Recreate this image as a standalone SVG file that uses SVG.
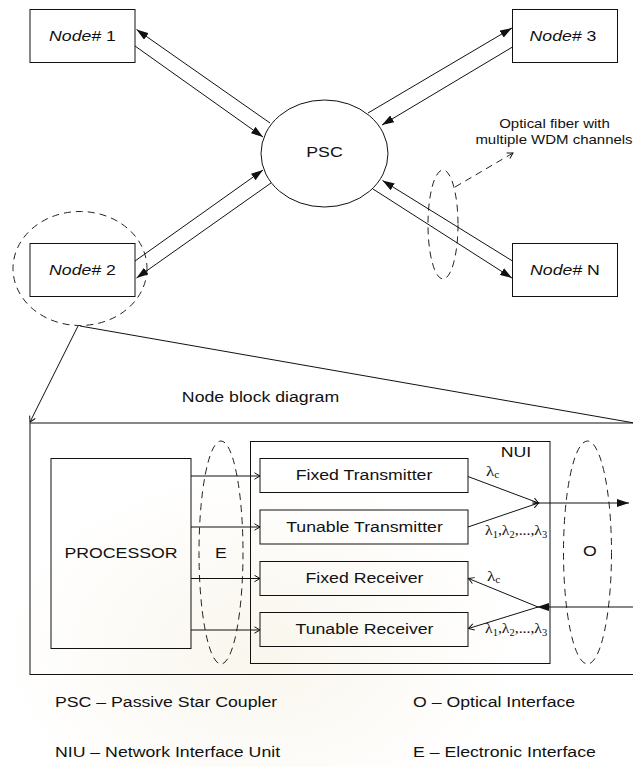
<svg xmlns="http://www.w3.org/2000/svg" width="633" height="767" viewBox="0 0 633 767">
  <defs>
    <style>
      .ln { fill: none; stroke: #111; stroke-width: 1; }
      .dash { fill: none; stroke: #222; stroke-width: 1; stroke-dasharray: 7 5; }
      .box { fill: #fff; stroke: #111; stroke-width: 1; }
      .ibox { fill: none; stroke: #111; stroke-width: 1; }
      .t { font-family: "Liberation Sans", Arial, sans-serif; font-size: 15px; fill: #111; }
      .ts { font-family: "Liberation Sans", Arial, sans-serif; font-size: 12.7px; fill: #111; }
      .lam { font-family: "Liberation Serif", "Times New Roman", serif; font-size: 15px; fill: #111; }
      .sub { font-size: 10px; }
      .it { font-style: italic; }
    </style>
    <marker id="fill" markerUnits="userSpaceOnUse" markerWidth="12" markerHeight="8" refX="12" refY="4" orient="auto">
      <path d="M0,0 L12,4 L0,8 z" fill="#111"/>
    </marker>
    <marker id="open" markerUnits="userSpaceOnUse" markerWidth="8" markerHeight="8" refX="6.5" refY="4" orient="auto">
      <path d="M1,0.8 L6.5,4 L1,7.2" fill="none" stroke="#111" stroke-width="1"/>
    </marker>
    <radialGradient id="wm" cx="0.5" cy="0.5" r="0.5">
      <stop offset="0" stop-color="#efe5cc" stop-opacity="0.35"/>
      <stop offset="1" stop-color="#efe5cc" stop-opacity="0"/>
    </radialGradient>
  </defs>

  <rect width="633" height="767" fill="#fff"/>
  <!-- faint background seal -->
  <ellipse cx="260" cy="650" rx="260" ry="180" fill="url(#wm)"/>

  <!-- star network -->
  <g id="psc">
    <ellipse cx="324.5" cy="153.5" rx="63.5" ry="53.5" class="box"/>
    <text class="t" text-anchor="middle" transform="translate(324.5,157) scale(1.18,1)">PSC</text>
  </g>
  <g id="node1">
    <rect x="30" y="9.5" width="105" height="53" class="box"/>
    <text class="t" text-anchor="middle" transform="translate(82.5,41) scale(1.18,1)"><tspan class="it">Node#</tspan> 1</text>
  </g>
  <g id="node3">
    <rect x="512.5" y="9.5" width="105" height="53" class="box"/>
    <text class="t" text-anchor="middle" transform="translate(563,41) scale(1.18,1)"><tspan class="it">Node#</tspan> 3</text>
  </g>
  <g id="node2">
    <rect x="30" y="243.5" width="105" height="53" class="box"/>
    <text class="t" text-anchor="middle" transform="translate(82.5,274.5) scale(1.18,1)"><tspan class="it">Node#</tspan> 2</text>
  </g>
  <g id="nodeN">
    <rect x="512.5" y="243.5" width="105" height="53" class="box"/>
    <text class="t" text-anchor="middle" transform="translate(565,274.5) scale(1.18,1)"><tspan class="it">Node#</tspan> N</text>
  </g>

  <g id="fiber-note">
    <ellipse cx="443" cy="224.5" rx="15" ry="54.5" class="dash"/>
    <text class="ts" text-anchor="middle" transform="translate(554.5,128) scale(1.18,1)">Optical fiber with</text>
    <text class="ts" text-anchor="middle" transform="translate(554,144) scale(1.18,1)">multiple WDM channels</text>
  </g>

  <g id="connectors">
    <!-- node 1 -->
    <line x1="270" y1="123" x2="136.5" y2="29.5" class="ln" marker-end="url(#fill)"/>
    <line x1="135" y1="46" x2="263" y2="137" class="ln" marker-end="url(#fill)"/>
    <!-- node 2 -->
    <line x1="135" y1="261" x2="263" y2="170" class="ln" marker-end="url(#fill)"/>
    <line x1="271" y1="183" x2="136.5" y2="278" class="ln" marker-end="url(#fill)"/>
    <!-- node 3 -->
    <line x1="368" y1="113" x2="512" y2="28" class="ln" marker-end="url(#fill)"/>
    <line x1="512.5" y1="47" x2="382" y2="125" class="ln" marker-end="url(#fill)"/>
    <!-- node N -->
    <line x1="512.5" y1="261" x2="382.5" y2="180.5" class="ln" marker-end="url(#fill)"/>
    <line x1="373" y1="189" x2="512" y2="278" class="ln" marker-end="url(#fill)"/>
    <!-- annotation pointer -->
    <line x1="455" y1="187" x2="513" y2="153" class="dash" stroke-dasharray="6 4" marker-end="url(#open)"/>
    <!-- zoom-out lines to the node block -->
    <line x1="78" y1="326" x2="30" y2="422" class="ln" marker-end="url(#open)"/>
    <line x1="80" y1="326" x2="640" y2="424" class="ln"/>
  </g>

  <g id="zoom">
    <ellipse cx="80" cy="268.5" rx="67" ry="57" class="dash" stroke-dasharray="8 5"/>
  </g>

  <!-- node block diagram -->
  <text class="t" text-anchor="middle" transform="translate(260.5,402) scale(1.18,1)">Node block diagram</text>

  <g id="block">
    <rect x="30" y="423" width="640" height="251.5" class="ibox"/>
  </g>

  <g id="processor">
    <rect x="51" y="458.5" width="140" height="190" class="ibox"/>
    <text class="t" text-anchor="middle" transform="translate(121,558) scale(1.18,1)">PROCESSOR</text>
  </g>

  <g id="e-interface">
    <ellipse cx="221" cy="552.5" rx="22" ry="111.5" class="dash"/>
    <text class="t" text-anchor="middle" transform="translate(221,558) scale(1.18,1)">E</text>
  </g>

  <g id="nui">
    <rect x="250.5" y="441.5" width="299.5" height="222" class="ibox"/>
    <text class="t" text-anchor="middle" transform="translate(516,457) scale(1.18,1)">NUI</text>
  </g>

  <g id="fixed-tx">
    <rect x="260" y="458.5" width="208" height="34" class="ibox"/>
    <text class="t" text-anchor="middle" transform="translate(364,480) scale(1.18,1)">Fixed Transmitter</text>
  </g>
  <g id="tunable-tx">
    <rect x="260" y="510" width="208" height="34" class="ibox"/>
    <text class="t" text-anchor="middle" transform="translate(364.5,531.5) scale(1.18,1)">Tunable Transmitter</text>
  </g>
  <g id="fixed-rx">
    <rect x="260" y="561.5" width="208" height="34" class="ibox"/>
    <text class="t" text-anchor="middle" transform="translate(364.5,583) scale(1.18,1)">Fixed Receiver</text>
  </g>
  <g id="tunable-rx">
    <rect x="260" y="612.5" width="208" height="34" class="ibox"/>
    <text class="t" text-anchor="middle" transform="translate(364.5,634) scale(1.18,1)">Tunable Receiver</text>
  </g>

  <g id="o-interface">
    <ellipse cx="587.5" cy="552.5" rx="24" ry="111.5" class="dash"/>
    <text class="t" text-anchor="middle" transform="translate(590,556) scale(1.18,1)">O</text>
  </g>

  <g id="block-connectors">
    <line x1="191" y1="476" x2="260" y2="476" class="ln" marker-end="url(#open)"/>
    <line x1="191" y1="527" x2="260" y2="527" class="ln" marker-end="url(#open)"/>
    <line x1="191" y1="578.5" x2="260" y2="578.5" class="ln" marker-end="url(#open)"/>
    <line x1="191" y1="630" x2="260" y2="630" class="ln" marker-end="url(#open)"/>
    <!-- transmit side -->
    <line x1="468" y1="476.5" x2="538.5" y2="503" class="ln" marker-end="url(#open)"/>
    <line x1="468" y1="527" x2="538.5" y2="503" class="ln" marker-end="url(#open)"/>
    <line x1="538" y1="503" x2="629" y2="503" class="ln" marker-end="url(#fill)"/>
    <!-- receive side -->
    <line x1="640" y1="607" x2="537" y2="607" class="ln" marker-end="url(#fill)"/>
    <line x1="538" y1="607" x2="468.5" y2="578.5" class="ln" marker-end="url(#open)"/>
    <line x1="538" y1="607" x2="468.5" y2="628.5" class="ln" marker-end="url(#open)"/>
  </g>

  <g id="wavelengths">
    <text class="lam" transform="translate(486,476) scale(1.15,1)">λ<tspan class="sub" dy="2">c</tspan></text>
    <text class="lam" transform="translate(485,535) scale(1.05,1)">λ<tspan class="sub" dy="3">1</tspan><tspan dy="-3">,λ</tspan><tspan class="sub" dy="3">2</tspan><tspan dy="-3">,...,λ</tspan><tspan class="sub" dy="3">3</tspan></text>
    <text class="lam" transform="translate(487,581) scale(1.15,1)">λ<tspan class="sub" dy="2">c</tspan></text>
    <text class="lam" transform="translate(485,633) scale(1.05,1)">λ<tspan class="sub" dy="3">1</tspan><tspan dy="-3">,λ</tspan><tspan class="sub" dy="3">2</tspan><tspan dy="-3">,...,λ</tspan><tspan class="sub" dy="3">3</tspan></text>
  </g>

  <g id="legend">
    <text class="t" transform="translate(55,707) scale(1.18,1)">PSC – Passive Star Coupler</text>
    <text class="t" transform="translate(55,757) scale(1.18,1)">NIU – Network Interface Unit</text>
    <text class="t" transform="translate(413,707) scale(1.18,1)">O – Optical Interface</text>
    <text class="t" transform="translate(413,757) scale(1.18,1)">E – Electronic Interface</text>
  </g>
</svg>
